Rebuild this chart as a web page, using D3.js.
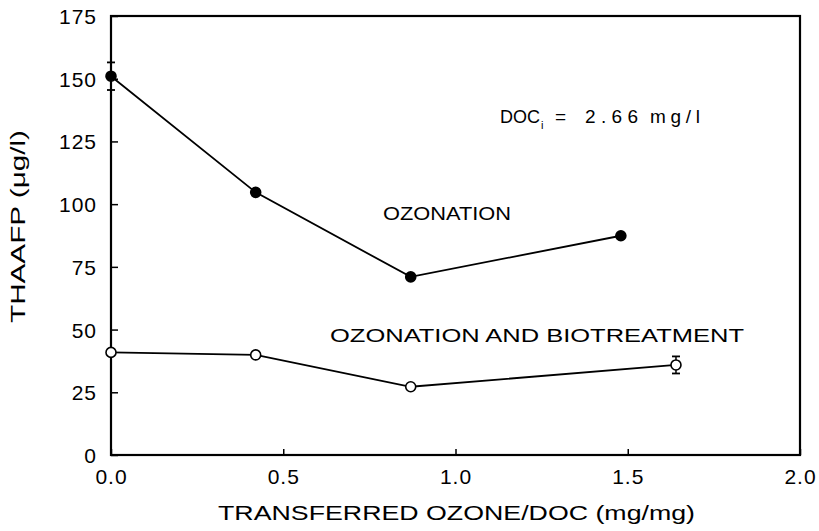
<!DOCTYPE html>
<html>
<head>
<meta charset="utf-8">
<script src="https://cdn.jsdelivr.net/npm/d3@7"></script>
<style>
  body { margin: 0; background: #fff; }
  svg { font-family: "Liberation Sans", Arial, sans-serif; }
</style>
</head>
<body>
<div id="chart"></div>
<script>
const ozoneDose = [0.0, 0.42, 0.87, 1.48];
const ozonation = [151, 104.7, 71, 87.4];
const ozonationErr = [5.5, 0, 0, 0];

const bioDose = [0.0, 0.42, 0.87, 1.64];
const biotreatment = [40.9, 39.9, 27.2, 35.9];
const biotreatmentErr = [0, 0, 0, 3.4];

const xTicks = [0.0, 0.5, 1.0, 1.5, 2.0];
const yTicks = [0, 25, 50, 75, 100, 125, 150, 175];

const width = 819, height = 531;
const margin = { left: 111, right: 19, top: 16, bottom: 76 };
const font = '"Liberation Sans", Arial, sans-serif';

const svg = d3.select('#chart').append('svg')
    .attr('width', width)
    .attr('height', height);

const x = d3.scaleLinear().domain([0, 2]).range([margin.left, width - margin.right]);
const y = d3.scaleLinear().domain([0, 175]).range([height - margin.bottom, margin.top]);

// frame
svg.append('rect')
    .attr('x', x(0)).attr('y', y(175))
    .attr('width', x(2) - x(0)).attr('height', y(0) - y(175))
    .attr('fill', 'none').attr('stroke', '#000').attr('stroke-width', 2.2);

// axes with inward ticks
const xAxis = svg.append('g')
    .attr('transform', `translate(0,${y(0)})`)
    .call(d3.axisBottom(x).tickValues(xTicks).tickFormat(d3.format('.1f')).tickSizeInner(-6).tickSizeOuter(0).tickPadding(14));
const yAxis = svg.append('g')
    .attr('transform', `translate(${x(0)},0)`)
    .call(d3.axisLeft(y).tickValues(yTicks).tickSizeInner(-7).tickSizeOuter(0).tickPadding(14));

[xAxis, yAxis].forEach(g => {
    g.select('.domain').remove();
    g.selectAll('.tick line').attr('stroke', '#000').attr('stroke-width', 1.5);
    g.selectAll('.tick text').attr('fill', '#000').attr('font-size', '21px')
        .attr('letter-spacing', '1px')
        .attr('font-family', font);
});
yAxis.selectAll('.tick text').attr('dy', '0.36em');

// axis titles
svg.append('text')
    .attr('x', 218).attr('y', 520)
    .attr('font-size', '21px')
    .attr('textLength', 477).attr('lengthAdjust', 'spacingAndGlyphs')
    .text('TRANSFERRED OZONE/DOC (mg/mg)');

svg.append('text')
    .attr('transform', `translate(25,323) rotate(-90)`)
    .attr('font-size', '21px')
    .attr('textLength', 193).attr('lengthAdjust', 'spacingAndGlyphs')
    .text('THAAFP (μg/l)');

// series
const line = d3.line().x(d => x(d[0])).y(d => y(d[1]));

function drawSeries(dose, vals, errs, filled) {
    const pts = dose.map((d, i) => [d, vals[i], errs[i]]);
    svg.append('path').datum(pts)
        .attr('d', line).attr('fill', 'none')
        .attr('stroke', '#000').attr('stroke-width', 1.8);

    const eb = svg.append('g');
    pts.filter(p => p[2] > 0).forEach(p => {
        eb.append('line')
            .attr('x1', x(p[0])).attr('x2', x(p[0]))
            .attr('y1', y(p[1] - p[2])).attr('y2', y(p[1] + p[2]))
            .attr('stroke', '#000').attr('stroke-width', 1.5);
        [p[1] - p[2], p[1] + p[2]].forEach(v => {
            eb.append('line')
                .attr('x1', x(p[0]) - 4).attr('x2', x(p[0]) + 4)
                .attr('y1', y(v)).attr('y2', y(v))
                .attr('stroke', '#000').attr('stroke-width', 1.8);
        });
    });

    svg.append('g').selectAll('circle').data(pts).enter()
        .append('circle')
        .attr('cx', d => x(d[0])).attr('cy', d => y(d[1]))
        .attr('r', 5)
        .attr('fill', filled ? '#000' : '#fff')
        .attr('stroke', '#000').attr('stroke-width', 1.6);
}

drawSeries(ozoneDose, ozonation, ozonationErr, true);
drawSeries(bioDose, biotreatment, biotreatmentErr, false);

// annotations
const ann = svg.append('g').attr('fill', '#000');
ann.append('text').attr('x', 500).attr('y', 123).attr('font-size', '18px').text('DOC');
ann.append('text').attr('x', 541).attr('y', 129).attr('font-size', '11px').text('i');
ann.append('text').attr('x', 555).attr('y', 123).attr('font-size', '19px').text('=');
ann.append('text').attr('x', 585).attr('y', 123).attr('font-size', '19px')
    .attr('textLength', 53).attr('lengthAdjust', 'spacing').text('2.66');
ann.append('text').attr('x', 650).attr('y', 123).attr('font-size', '19px')
    .attr('textLength', 50).attr('lengthAdjust', 'spacing').text('mg/l');

ann.append('text').attr('x', 383).attr('y', 220).attr('font-size', '18px')
    .attr('textLength', 128).attr('lengthAdjust', 'spacingAndGlyphs').text('OZONATION');
ann.append('text').attr('x', 330).attr('y', 342).attr('font-size', '18px')
    .attr('textLength', 414).attr('lengthAdjust', 'spacingAndGlyphs').text('OZONATION AND BIOTREATMENT');
</script>
</body>
</html>
